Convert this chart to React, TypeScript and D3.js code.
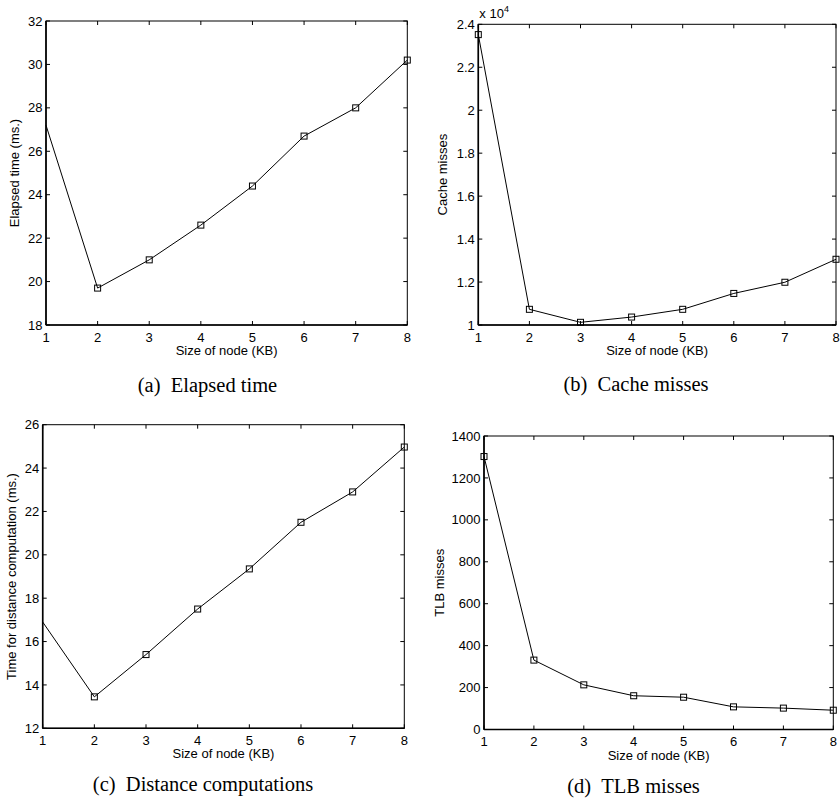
import React, { useEffect } from "react";
import * as d3 from "d3";

// node sizes (KB) shared by all four panels
const nodeSizes = [1, 2, 3, 4, 5, 6, 7, 8];

const elapsedTime = [27.2, 19.7, 21.0, 22.6, 24.4, 26.7, 28.0, 30.2];
const cacheMisses = [23520, 10730, 10125, 10370, 10730, 11470, 11990, 13060];
const distanceTime = [16.9, 13.45, 15.4, 17.5, 19.35, 21.5, 22.9, 24.97];
const tlbMisses = [1302, 331, 213, 161, 154, 108, 102, 92];

const elapsedTicks = [18, 20, 22, 24, 26, 28, 30, 32];
const cacheTicks = [1, 1.2, 1.4, 1.6, 1.8, 2, 2.2, 2.4]; // x 10^4
const distanceTicks = [12, 14, 16, 18, 20, 22, 24, 26];
const tlbTicks = [0, 200, 400, 600, 800, 1000, 1200, 1400];

const SANS = "'Liberation Sans', Arial, Helvetica, sans-serif";
const SERIF = "'Liberation Serif', 'Times New Roman', serif";

type PanelProps = {
  box: { left: number; right: number; top: number; bottom: number };
  values: number[];
  yTicks: number[];
  yScaleFactor?: number;
  yLabel: string;
  yLabelX: number;
  caption: string;
  captionX: number;
  captionY: number;
  firstMarker: boolean;
  exponent?: boolean;
};

function Panel(p: PanelProps) {
  const { left, right, top, bottom } = p.box;
  const f = p.yScaleFactor || 1;
  const x = d3.scaleLinear().domain([1, 8]).range([left, right]);
  const y = d3
    .scaleLinear()
    .domain([p.yTicks[0] * f, p.yTicks[p.yTicks.length - 1] * f])
    .range([bottom, top]);

  const pts: [number, number][] = nodeSizes.map((n, i) => [x(n), y(p.values[i])]);
  const line = d3.line()(pts) || "";
  const tk = 4;
  const ms = 6;

  return (
    <g>
      <rect x={left} y={top} width={right - left} height={bottom - top} fill="#fff" stroke="#000" strokeWidth={1} />
      <line x1={left} x2={left} y1={top} y2={bottom} stroke="#000" strokeWidth={1.6} />
      <line x1={left} x2={right} y1={bottom} y2={bottom} stroke="#000" strokeWidth={1.6} />

      {nodeSizes.map((n) => (
        <g key={"x" + n}>
          <line x1={x(n)} x2={x(n)} y1={bottom} y2={bottom - tk} stroke="#000" />
          <line x1={x(n)} x2={x(n)} y1={top} y2={top + tk} stroke="#000" />
          <text x={x(n)} y={bottom + 16.5} textAnchor="middle" fontFamily={SANS} fontSize={13}>
            {n}
          </text>
        </g>
      ))}

      {p.yTicks.map((t) => (
        <g key={"y" + t}>
          <line x1={left} x2={left + tk} y1={y(t * f)} y2={y(t * f)} stroke="#000" />
          <line x1={right} x2={right - tk} y1={y(t * f)} y2={y(t * f)} stroke="#000" />
          <text x={left - 3.5} y={y(t * f) + 4.6} textAnchor="end" fontFamily={SANS} fontSize={13}>
            {String(t)}
          </text>
        </g>
      ))}

      {p.exponent && (
        <text x={left + 1} y={top - 6} fontFamily={SANS} fontSize={13}>
          x 10
          <tspan dy={-6} fontSize={9}>
            4
          </tspan>
        </text>
      )}

      <path d={line} fill="none" stroke="#000" strokeWidth={1} />
      {pts.map(([px, py], i) =>
        i === 0 && !p.firstMarker ? null : (
          <rect key={"m" + i} x={px - ms / 2} y={py - ms / 2} width={ms} height={ms} fill="none" stroke="#000" strokeWidth={1} />
        )
      )}

      <text x={(left + right) / 2} y={bottom + 30} textAnchor="middle" fontFamily={SANS} fontSize={13}>
        Size of node (KB)
      </text>
      <text
        transform={`translate(${p.yLabelX + 3.5},${(top + bottom) / 2}) rotate(-90)`}
        textAnchor="middle"
        fontFamily={SANS}
        fontSize={13}
      >
        {p.yLabel}
      </text>
      <text x={p.captionX} y={p.captionY} textAnchor="middle" fontFamily={SERIF} fontSize={20.5}>
        {p.caption}
      </text>
    </g>
  );
}

export default function App() {
  useEffect(() => {
    document.body.style.margin = "0";
  }, []);

  return (
    <svg width={840} height={801} style={{ display: "block", background: "#fff" }}>
      <rect width={840} height={801} fill="#fff" />
      <Panel
        box={{ left: 46, right: 407.3, top: 21, bottom: 325 }}
        values={elapsedTime}
        yTicks={elapsedTicks}
        yLabel="Elapsed time (ms.)"
        yLabelX={15.3}
        caption={"(a)\u00A0\u00A0Elapsed time"}
        captionX={207.5}
        captionY={391.5}
        firstMarker={false}
      />
      <Panel
        box={{ left: 478.3, right: 836, top: 24.3, bottom: 325 }}
        values={cacheMisses}
        yTicks={cacheTicks}
        yScaleFactor={10000}
        yLabel="Cache misses"
        yLabelX={443.7}
        caption={"(b)\u00A0\u00A0Cache misses"}
        captionX={636}
        captionY={390.5}
        firstMarker={true}
        exponent={true}
      />
      <Panel
        box={{ left: 42.7, right: 404.3, top: 424.7, bottom: 728.3 }}
        values={distanceTime}
        yTicks={distanceTicks}
        yLabel="Time for distance computation (ms.)"
        yLabelX={12.5}
        caption={"(c)\u00A0\u00A0Distance computations"}
        captionX={203}
        captionY={790.7}
        firstMarker={false}
      />
      <Panel
        box={{ left: 484, right: 833.3, top: 436, bottom: 729.5 }}
        values={tlbMisses}
        yTicks={tlbTicks}
        yLabel="TLB misses"
        yLabelX={440}
        caption={"(d)\u00A0\u00A0TLB misses"}
        captionX={633.5}
        captionY={793}
        firstMarker={true}
      />
    </svg>
  );
}
